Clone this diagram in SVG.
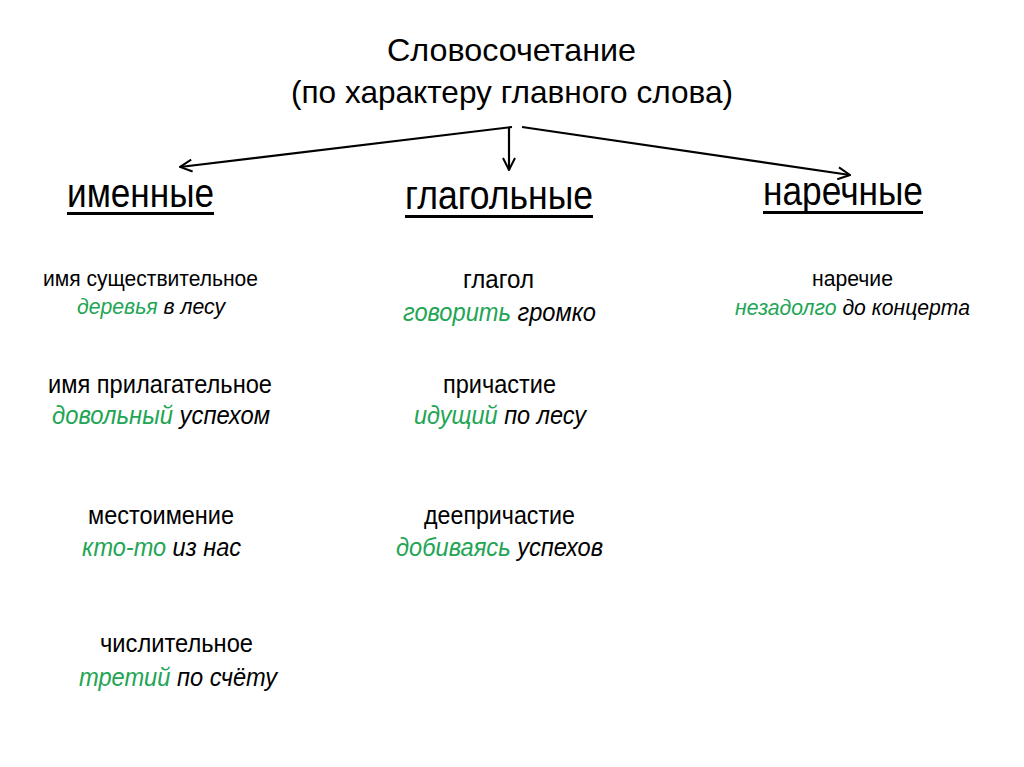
<svg xmlns="http://www.w3.org/2000/svg" width="1024" height="767" viewBox="0 0 1024 767">
<defs>
<style>
text{font-family:"Liberation Sans",Arial,sans-serif;fill:#000}
.t{font-size:32px}
.h{font-size:40px}
.s{font-size:25px}
.e{font-size:25px;font-style:italic}
.sm{font-size:22px}
.g{fill:#22a554}
.c{stroke:#000;stroke-width:2.2;fill:none;marker-end:url(#a)}
</style>
<marker id="a" viewBox="0 0 14 14" refX="13" refY="7" markerWidth="14" markerHeight="14" orient="auto" markerUnits="userSpaceOnUse">
<path d="M1,1 L13,7 L1,13" fill="none" stroke="#000" stroke-width="2"/>
</marker>
</defs>
<rect width="1024" height="767" fill="#fff"/>
<g id="title">
<text class="t" x="387" y="61" textLength="249" lengthAdjust="spacingAndGlyphs">Словосочетание</text>
<text class="t" x="291" y="103" textLength="442" lengthAdjust="spacingAndGlyphs">(по характеру главного слова)</text>
</g>
<g id="connectors">
<path class="c" d="M512,127 L180,167"/>
<path class="c" d="M509,128 L509,170"/>
<path class="c" d="M522,127 L850,175"/>
</g>
<g id="imennye">
<text class="h" x="67" y="207" textLength="147" lengthAdjust="spacingAndGlyphs">именные</text>
<rect x="67" y="212" width="147" height="3"/>
</g>
<g id="glagolnye">
<text class="h" x="405" y="209" textLength="188" lengthAdjust="spacingAndGlyphs">глагольные</text>
<rect x="405" y="215" width="188" height="3"/>
</g>
<g id="narechnye">
<text class="h" x="763" y="205" textLength="160" lengthAdjust="spacingAndGlyphs">наречные</text>
<rect x="763" y="211" width="160" height="3"/>
</g>
<g id="sush">
<text class="s sm" x="43" y="286" textLength="215" lengthAdjust="spacingAndGlyphs">имя существительное</text>
<text class="e sm" x="77" y="314" textLength="148" lengthAdjust="spacingAndGlyphs"><tspan class="g">деревья</tspan> в лесу</text>
</g>
<g id="pril">
<text class="s" x="48" y="393" textLength="224" lengthAdjust="spacingAndGlyphs">имя прилагательное</text>
<text class="e" x="52" y="424" textLength="218" lengthAdjust="spacingAndGlyphs"><tspan class="g">довольный</tspan> успехом</text>
</g>
<g id="mest">
<text class="s" x="88" y="524" textLength="146" lengthAdjust="spacingAndGlyphs">местоимение</text>
<text class="e" x="82" y="556" textLength="159" lengthAdjust="spacingAndGlyphs"><tspan class="g">кто-то</tspan> из нас</text>
</g>
<g id="chisl">
<text class="s" x="100" y="652" textLength="153" lengthAdjust="spacingAndGlyphs">числительное</text>
<text class="e" x="79" y="686" textLength="198" lengthAdjust="spacingAndGlyphs"><tspan class="g">третий</tspan> по счёту</text>
</g>
<g id="glagol">
<text class="s" x="463" y="288" textLength="71" lengthAdjust="spacingAndGlyphs">глагол</text>
<text class="e" x="403" y="321" textLength="193" lengthAdjust="spacingAndGlyphs"><tspan class="g">говорить</tspan> громко</text>
</g>
<g id="prich">
<text class="s" x="443" y="393" textLength="113" lengthAdjust="spacingAndGlyphs">причастие</text>
<text class="e" x="414" y="424" textLength="172" lengthAdjust="spacingAndGlyphs"><tspan class="g">идущий</tspan> по лесу</text>
</g>
<g id="deepr">
<text class="s" x="424" y="524" textLength="151" lengthAdjust="spacingAndGlyphs">деепричастие</text>
<text class="e" x="396" y="556" textLength="207" lengthAdjust="spacingAndGlyphs"><tspan class="g">добиваясь</tspan> успехов</text>
</g>
<g id="narech">
<text class="s sm" x="812" y="286" textLength="81" lengthAdjust="spacingAndGlyphs">наречие</text>
<text class="e sm" x="735" y="315" textLength="235" lengthAdjust="spacingAndGlyphs"><tspan class="g">незадолго</tspan> до концерта</text>
</g>
</svg>
